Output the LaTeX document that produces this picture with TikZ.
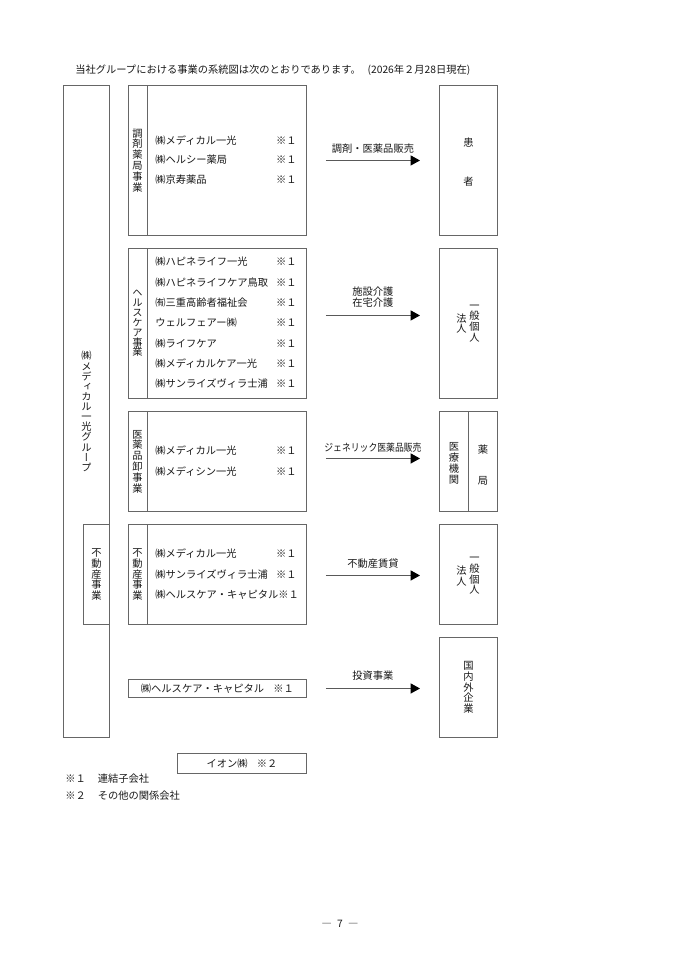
\documentclass[tikz,border=0pt]{standalone}
\usepackage{fontspec}
\usepackage{graphicx}
\setmainfont{Noto Sans CJK JP}
\newfontfamily\vjp[RawFeature=+vert]{Noto Sans CJK JP}
\usetikzlibrary{arrows.meta}
\begin{document}
\begin{tikzpicture}[x=0.75pt,y=-0.75pt,
  box/.style={draw=black!60, line width=0.7pt, rectangle, inner sep=0pt, anchor=north west},
  txt/.style={text=black!90, font=\fontsize{7.7}{8.3}\selectfont, inner sep=0pt},
  vtxt/.style={text=black!90, font=\vjp\fontsize{7.7}{8.1}\selectfont, inner sep=0pt, align=center},
  arr/.style={draw=black!65, line width=0.7pt, -{Triangle[length=7pt,width=7.5pt,color=black]}, shorten <=14.25pt, shorten >=14.25pt},
  divider/.style={draw=black!60, line width=0.7pt}]
\useasboundingbox[fill=white] (0,0) rectangle (679,960);

% header
\node[txt, anchor=west] (hdr) at (75,70) {当社グループにおける事業の系統図は次のとおりであります。\hspace{5pt}(2026年２月28日現在)};

% group box
\node[box, minimum width=34.5pt, minimum height=489pt] (g) at (63,85) {};
\node[vtxt, font=\vjp\fontsize{7.7}{7.6}\selectfont] (gl) at (g.center) {㈱\\メ\\デ\\ィ\\カ\\ル\\一\\光\\グ\\ル\\ー\\プ};
\node[box, fill=white, minimum width=19.5pt, minimum height=75pt] (fd) at (83,524) {};
\node[vtxt] (fdl) at (fd.center) {不\\動\\産\\事\\業};

% business boxes
\node[box, minimum width=133.5pt, minimum height=112.5pt] (b1) at (128,85) {};
\node[box, minimum width=133.5pt, minimum height=112.5pt] (b2) at (128,248) {};
\node[box, minimum width=133.5pt, minimum height=75pt] (b3) at (128,411) {};
\node[box, minimum width=133.5pt, minimum height=75pt] (b4) at (128,524) {};
\node[box, minimum width=133.5pt, minimum height=13.5pt] (b5) at (128,679) {};
\node[box, minimum width=96.75pt, minimum height=15pt] (b6) at (177,753) {};

\foreach \b in {b1,b2,b3,b4}
  \draw[divider] ([xshift=14.25pt]\b.north west) -- ([xshift=14.25pt]\b.south west);

% vertical labels
\node[vtxt] (l1) at ([xshift=7.1pt]b1.west) {調\\剤\\薬\\局\\事\\業};
\node[vtxt, font=\vjp\fontsize{7.7}{7.4}\selectfont] (l2) at ([xshift=7.1pt]b2.west) {ヘ\\ル\\ス\\ケ\\ア\\事\\業};
\node[vtxt] (l3) at ([xshift=7.1pt]b3.west) {医\\薬\\品\\卸\\事\\業};
\node[vtxt] (l4) at ([xshift=7.1pt]b4.west) {不\\動\\産\\事\\業};

% entries b1
\node[txt, anchor=west] (e11) at (155,141) {㈱メディカル一光};
\node[txt, anchor=east] (s11) at (297,141) {※１};
\node[txt, anchor=west] (e12) at (155,160) {㈱ヘルシー薬局};
\node[txt, anchor=east] (s12) at (297,160) {※１};
\node[txt, anchor=west] (e13) at (155,180) {㈱京寿薬品};
\node[txt, anchor=east] (s13) at (297,180) {※１};

% entries b2
\node[txt, anchor=west] (e21) at (155,262) {㈱ハピネライフ一光};
\node[txt, anchor=east] (s21) at (297,262) {※１};
\node[txt, anchor=west] (e22) at (155,282.5) {㈱ハピネライフケア鳥取};
\node[txt, anchor=east] (s22) at (297,282.5) {※１};
\node[txt, anchor=west] (e23) at (155,303) {㈲三重高齢者福祉会};
\node[txt, anchor=east] (s23) at (297,303) {※１};
\node[txt, anchor=west] (e24) at (155,323) {ウェルフェアー㈱};
\node[txt, anchor=east] (s24) at (297,323) {※１};
\node[txt, anchor=west] (e25) at (155,343.5) {㈱ライフケア};
\node[txt, anchor=east] (s25) at (297,343.5) {※１};
\node[txt, anchor=west] (e26) at (155,364) {㈱メディカルケア一光};
\node[txt, anchor=east] (s26) at (297,364) {※１};
\node[txt, anchor=west] (e27) at (155,384) {㈱サンライズヴィラ士浦};
\node[txt, anchor=east] (s27) at (297,384) {※１};

% entries b3
\node[txt, anchor=west] (e31) at (155,451) {㈱メディカル一光};
\node[txt, anchor=east] (s31) at (297,451) {※１};
\node[txt, anchor=west] (e32) at (155,472) {㈱メディシン一光};
\node[txt, anchor=east] (s32) at (297,472) {※１};

% entries b4
\node[txt, anchor=west] (e41) at (155,554) {㈱メディカル一光};
\node[txt, anchor=east] (s41) at (297,554) {※１};
\node[txt, anchor=west] (e42) at (155,575) {㈱サンライズヴィラ士浦};
\node[txt, anchor=east] (s42) at (297,575) {※１};
\node[txt, anchor=west] (e43) at (155,595) {㈱ヘルスケア・キャピタル※１};

% b5, b6
\node[txt] (e51) at (b5.center) {㈱ヘルスケア・キャピタル\hspace{7pt}※１};
\node[txt] (e61) at (b6.center) {イオン㈱\hspace{7pt}※２};

% customer boxes
\node[box, minimum width=43.5pt, minimum height=112.5pt] (c1) at (439,85) {};
\node[box, minimum width=43.5pt, minimum height=112.5pt] (c2) at (439,248) {};
\node[box, minimum width=43.5pt, minimum height=75pt] (c3) at (439,411) {};
\node[box, minimum width=43.5pt, minimum height=75pt] (c4) at (439,524) {};
\node[box, minimum width=43.5pt, minimum height=75pt] (c5) at (439,637) {};
\draw[divider] (c3.north) -- (c3.south);

\node[txt] (k1a) at ([yshift=13.5pt]c1.center) {患};
\node[txt] (k1b) at ([yshift=-15.5pt]c1.center) {者};
\node[vtxt] (k2a) at ([xshift=4.5pt]c2.center) {一\\般\\個\\人};
\node[vtxt] (k2b) at ([xshift=-5.3pt]c2.center) {法\\人};
\node[vtxt] (k3a) at ([xshift=-10.9pt,yshift=-1.5pt]c3.center) {医\\療\\機\\関};
\node[txt] (k3b) at ([xshift=10.9pt,yshift=9pt]c3.center) {薬};
\node[txt] (k3c) at ([xshift=10.9pt,yshift=-14.25pt]c3.center) {局};
\node[vtxt] (k4a) at ([xshift=4.5pt,yshift=-1pt]c4.center) {一\\般\\個\\人};
\node[vtxt] (k4b) at ([xshift=-5.3pt,yshift=-1pt]c4.center) {法\\人};
\node[vtxt] (k5) at (c5.center) {国\\内\\外\\企\\業};

% arrows
\draw[arr] (b1.east) -- (c1.west) node[midway, txt, yshift=9pt] {調剤・医薬品販売};
\draw[arr] ([yshift=6pt]b2.east) -- ([yshift=6pt]c2.west) node[midway, txt, align=center, yshift=13.9pt, font=\fontsize{7.7}{8.3}\selectfont] {施設介護\\在宅介護};
\draw[arr] ([yshift=2.25pt]b3.east) -- ([yshift=2.25pt]c3.west) node[midway, txt, yshift=8.5pt] {\scalebox{0.86}[1]{ジェネリック医薬品販売}};
\draw[arr] ([yshift=-0.75pt]b4.east) -- ([yshift=-0.75pt]c4.west) node[midway, txt, yshift=9pt] {不動産賃貸};
\draw[arr] (b5.east) -- (b5.east -| c5.west) node[midway, txt, yshift=9.75pt] {投資事業};

% footnotes
\node[txt, anchor=west] (f1) at (65,779) {※１\hspace{9pt}連結子会社};
\node[txt, anchor=west] (f2) at (65,796) {※２\hspace{9pt}その他の関係会社};

% page number
\node[txt] (pg) at (340,924) {―\hspace{4pt}7\hspace{4pt}―};
\end{tikzpicture}
\end{document}
